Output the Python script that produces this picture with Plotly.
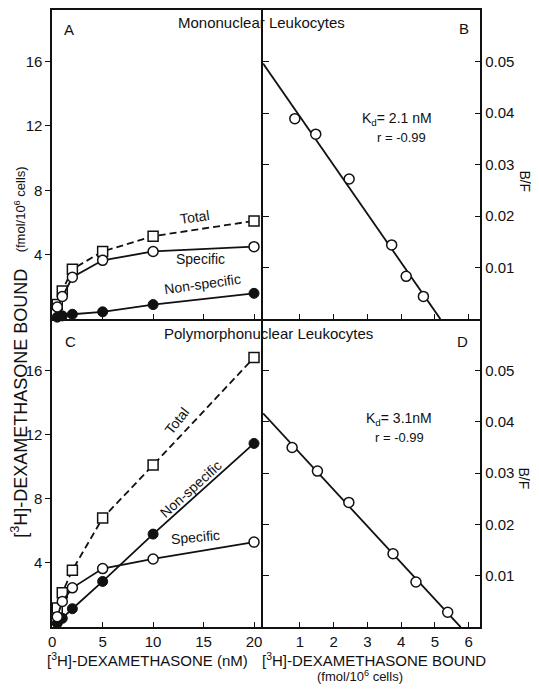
import numpy as np
import plotly.graph_objects as go

# ---------------- data ----------------
conc_nM = [0.5, 1, 2, 5, 10, 20]

# Panel A: Mononuclear leukocytes, saturation (fmol/10^6 cells)
A_total = [0.9, 1.75, 3.1, 4.2, 5.15, 6.1]
A_specific = [0.75, 1.4, 2.6, 3.65, 4.2, 4.5]
A_nonspecific = [0.12, 0.2, 0.3, 0.45, 0.9, 1.6]

# Panel C: Polymorphonuclear leukocytes, saturation
C_total = [1.2, 2.15, 3.55, 6.8, 10.1, 16.8]
C_specific = [0.65, 1.6, 2.45, 3.65, 4.25, 5.3]
C_nonspecific = [0.25, 0.55, 1.15, 2.85, 5.8, 11.45]

# Panel B: Scatchard, mononuclear
B_bound = [0.85, 1.47, 2.46, 3.72, 4.15, 4.66]
B_bf = [0.0389, 0.0359, 0.0272, 0.0144, 0.0083, 0.0044]

# Panel D: Scatchard, polymorphonuclear
D_bound = [0.77, 1.52, 2.45, 3.76, 4.44, 5.38]
D_bf = [0.035, 0.0304, 0.0243, 0.0143, 0.0088, 0.0029]

left_yticks = [4, 8, 12, 16]
left_xticks = [0, 5, 10, 15, 20]
right_xticks = [1, 2, 3, 4, 5, 6]
right_yticks = [0.01, 0.02, 0.03, 0.04, 0.05]
right_yticktext = ["0.01", "0.02", "0.03", "0.04", "0.05"]

# ---------------- layout geometry ----------------
# the page body has an 8px margin, so the figure is placed at (8, 8)
OFF = 8
W, H = 539 - OFF, 693 - 2 * OFF
FX0, FXM, FX1 = 48.5, 261.0, 480.0
FY0, FYM, FY1 = 8.0, 318.0, 627.0


def px(x, y):
    return (x - OFF) / W, 1 - (y - OFF) / H


FONT = "Liberation Sans, Arial, Helvetica, sans-serif"
BLACK = "#111111"
LW = 1.8

xl = [px(FX0, 0)[0], px(FXM, 0)[0]]
xr = [px(FXM, 0)[0], px(FX1, 0)[0]]
yt = [px(0, FYM)[1], px(0, FY0)[1]]
yb = [px(0, FY1)[1], px(0, FYM)[1]]

LEFT_XR = [0, 20.9]
LEFT_YR = [0, 19.2]
RIGHT_XR = [-0.09, 6.35]
RIGHT_YR = [0, 0.06]

fig = go.Figure()


def sat_traces(xa, ya, total, spec, nonspec):
    fig.add_trace(go.Scatter(x=conc_nM, y=total, xaxis=xa, yaxis=ya, mode="lines+markers",
                             line=dict(color=BLACK, width=LW, dash="7px,4px"),
                             marker=dict(symbol="square", size=10, color="white",
                                         line=dict(color=BLACK, width=1.5)),
                             cliponaxis=False))
    fig.add_trace(go.Scatter(x=conc_nM, y=nonspec, xaxis=xa, yaxis=ya, mode="lines+markers",
                             line=dict(color=BLACK, width=LW),
                             marker=dict(symbol="circle", size=10, color=BLACK,
                                         line=dict(color=BLACK, width=1)),
                             cliponaxis=False))
    fig.add_trace(go.Scatter(x=conc_nM, y=spec, xaxis=xa, yaxis=ya, mode="lines+markers",
                             line=dict(color=BLACK, width=LW),
                             marker=dict(symbol="circle", size=10, color="white",
                                         line=dict(color=BLACK, width=1.5)),
                             cliponaxis=False))


def scatchard_traces(xa, ya, bound, bf):
    slope, intercept = np.polyfit(bound, bf, 1)
    x0 = RIGHT_XR[0]
    x1 = -intercept / slope
    xs = np.array([x0, x1])
    fig.add_trace(go.Scatter(x=xs, y=intercept + slope * xs, xaxis=xa, yaxis=ya, mode="lines",
                             line=dict(color=BLACK, width=LW), cliponaxis=True))
    fig.add_trace(go.Scatter(x=bound, y=bf, xaxis=xa, yaxis=ya, mode="markers",
                             marker=dict(symbol="circle", size=10, color="white",
                                         line=dict(color=BLACK, width=1.5)),
                             cliponaxis=False))


sat_traces("x", "y", A_total, A_specific, A_nonspecific)
scatchard_traces("x2", "y2", B_bound, B_bf)
sat_traces("x3", "y3", C_total, C_specific, C_nonspecific)
scatchard_traces("x4", "y4", D_bound, D_bf)

tickfont = dict(family=FONT, size=15, color=BLACK)


def ax(mirror):
    return dict(showline=True, linecolor=BLACK, linewidth=1.5, mirror=mirror,
                showgrid=False, zeroline=False, tickcolor=BLACK, tickwidth=1.3,
                tickfont=tickfont)


fig.update_layout(
    width=W, height=H, margin=dict(l=0, r=0, t=0, b=0),
    paper_bgcolor="white", plot_bgcolor="rgba(0,0,0,0)", showlegend=False,
    font=dict(family=FONT, color=BLACK),
    # Panel A
    xaxis=dict(domain=xl, anchor="y", range=LEFT_XR, tickmode="array", tickvals=left_xticks[1:],
               ticks="inside", ticklen=5, showticklabels=False, **ax(True)),
    yaxis=dict(domain=yt, anchor="x", range=LEFT_YR, tickmode="array", tickvals=left_yticks,
               ticks="outside", ticklen=5, **ax(False)),
    # Panel B
    xaxis2=dict(domain=xr, anchor="y2", range=RIGHT_XR, tickmode="array", tickvals=right_xticks,
                ticks="inside", ticklen=5, showticklabels=False, **ax(True)),
    yaxis2=dict(domain=yt, anchor="x2", side="right", range=RIGHT_YR, tickmode="array",
                tickvals=right_yticks, ticktext=right_yticktext, ticks="inside", ticklen=6,
                **ax("ticks")),
    # Panel C
    xaxis3=dict(domain=xl, anchor="y3", range=LEFT_XR, tickmode="array", tickvals=left_xticks,
                ticktext=[str(v) for v in left_xticks], ticks="inside", ticklen=5, **ax(False)),
    yaxis3=dict(domain=yb, anchor="x3", range=LEFT_YR, tickmode="array", tickvals=left_yticks,
                ticks="outside", ticklen=5, **ax(False)),
    # Panel D
    xaxis4=dict(domain=xr, anchor="y4", range=RIGHT_XR, tickmode="array", tickvals=right_xticks,
                ticks="inside", ticklen=5, **ax(False)),
    yaxis4=dict(domain=yb, anchor="x4", side="right", range=RIGHT_YR, tickmode="array",
                tickvals=right_yticks, ticktext=right_yticktext, ticks="inside", ticklen=6,
                **ax("ticks")),
    # inward ticks on the right edge of A and C
    yaxis5=dict(overlaying="y", anchor="x", side="right", range=LEFT_YR, tickmode="array",
                tickvals=left_yticks, ticks="inside", ticklen=5, showticklabels=False,
                showline=False, showgrid=False, zeroline=False, tickcolor=BLACK, tickwidth=1.3),
    yaxis6=dict(overlaying="y3", anchor="x3", side="right", range=LEFT_YR, tickmode="array",
                tickvals=left_yticks, ticks="inside", ticklen=5, showticklabels=False,
                showline=False, showgrid=False, zeroline=False, tickcolor=BLACK, tickwidth=1.3),
)

ann = []


def text(x, y, s, size=15, angle=0, **kw):
    axx, ayy = px(x, y)
    ann.append(dict(x=axx, y=ayy, xref="paper", yref="paper", text=s, showarrow=False,
                    font=dict(family=FONT, size=size, color=BLACK), textangle=angle,
                    xanchor="center", yanchor="middle", **kw))


text(259, 21, "Mononuclear Leukocytes", 15)
text(266, 332, "Polymorphonuclear Leukocytes", 15)
text(65, 28, "A", 15)
text(463, 27, "B", 15)
text(67, 340, "C", 15)
text(462, 340, "D", 15)

# Panel A labels
text(192, 216, "Total", 14, -8)
text(198, 258, "Specific", 14, 0)
text(200, 283, "Non-specific", 14, -8)
# Panel C labels
text(174, 420, "Total", 14, -52)
text(188, 488, "Non-specific", 14, -42)
text(193, 537, "Specific", 14, -5)

# Scatchard annotations
text(396, 117, "K<sub>d</sub>= 2.1 nM", 14)
text(400, 136, "r = -0.99", 13)
text(398, 418, "K<sub>d</sub>= 3.1nM", 14)
text(398, 437, "r = -0.99", 13)

# B/F labels
text(524, 180, "B/F", 14, 90)
text(524, 478, "B/F", 14, 90)

# axis titles
text(145, 659, "[<sup>3</sup>H]-DEXAMETHASONE (nM)", 15)
text(373, 659, "[<sup>3</sup>H]-DEXAMETHASONE BOUND", 15)
text(359, 676, "(fmol/10<sup>6</sup> cells)", 13)
text(16, 402, "[<sup>3</sup>H]-DEXAMETHASONE BOUND", 18, -90)
text(16, 208, "(fmol/10<sup>6</sup> cells)", 13, -90)

fig.update_layout(annotations=ann)
fig.write_html("out.html")
